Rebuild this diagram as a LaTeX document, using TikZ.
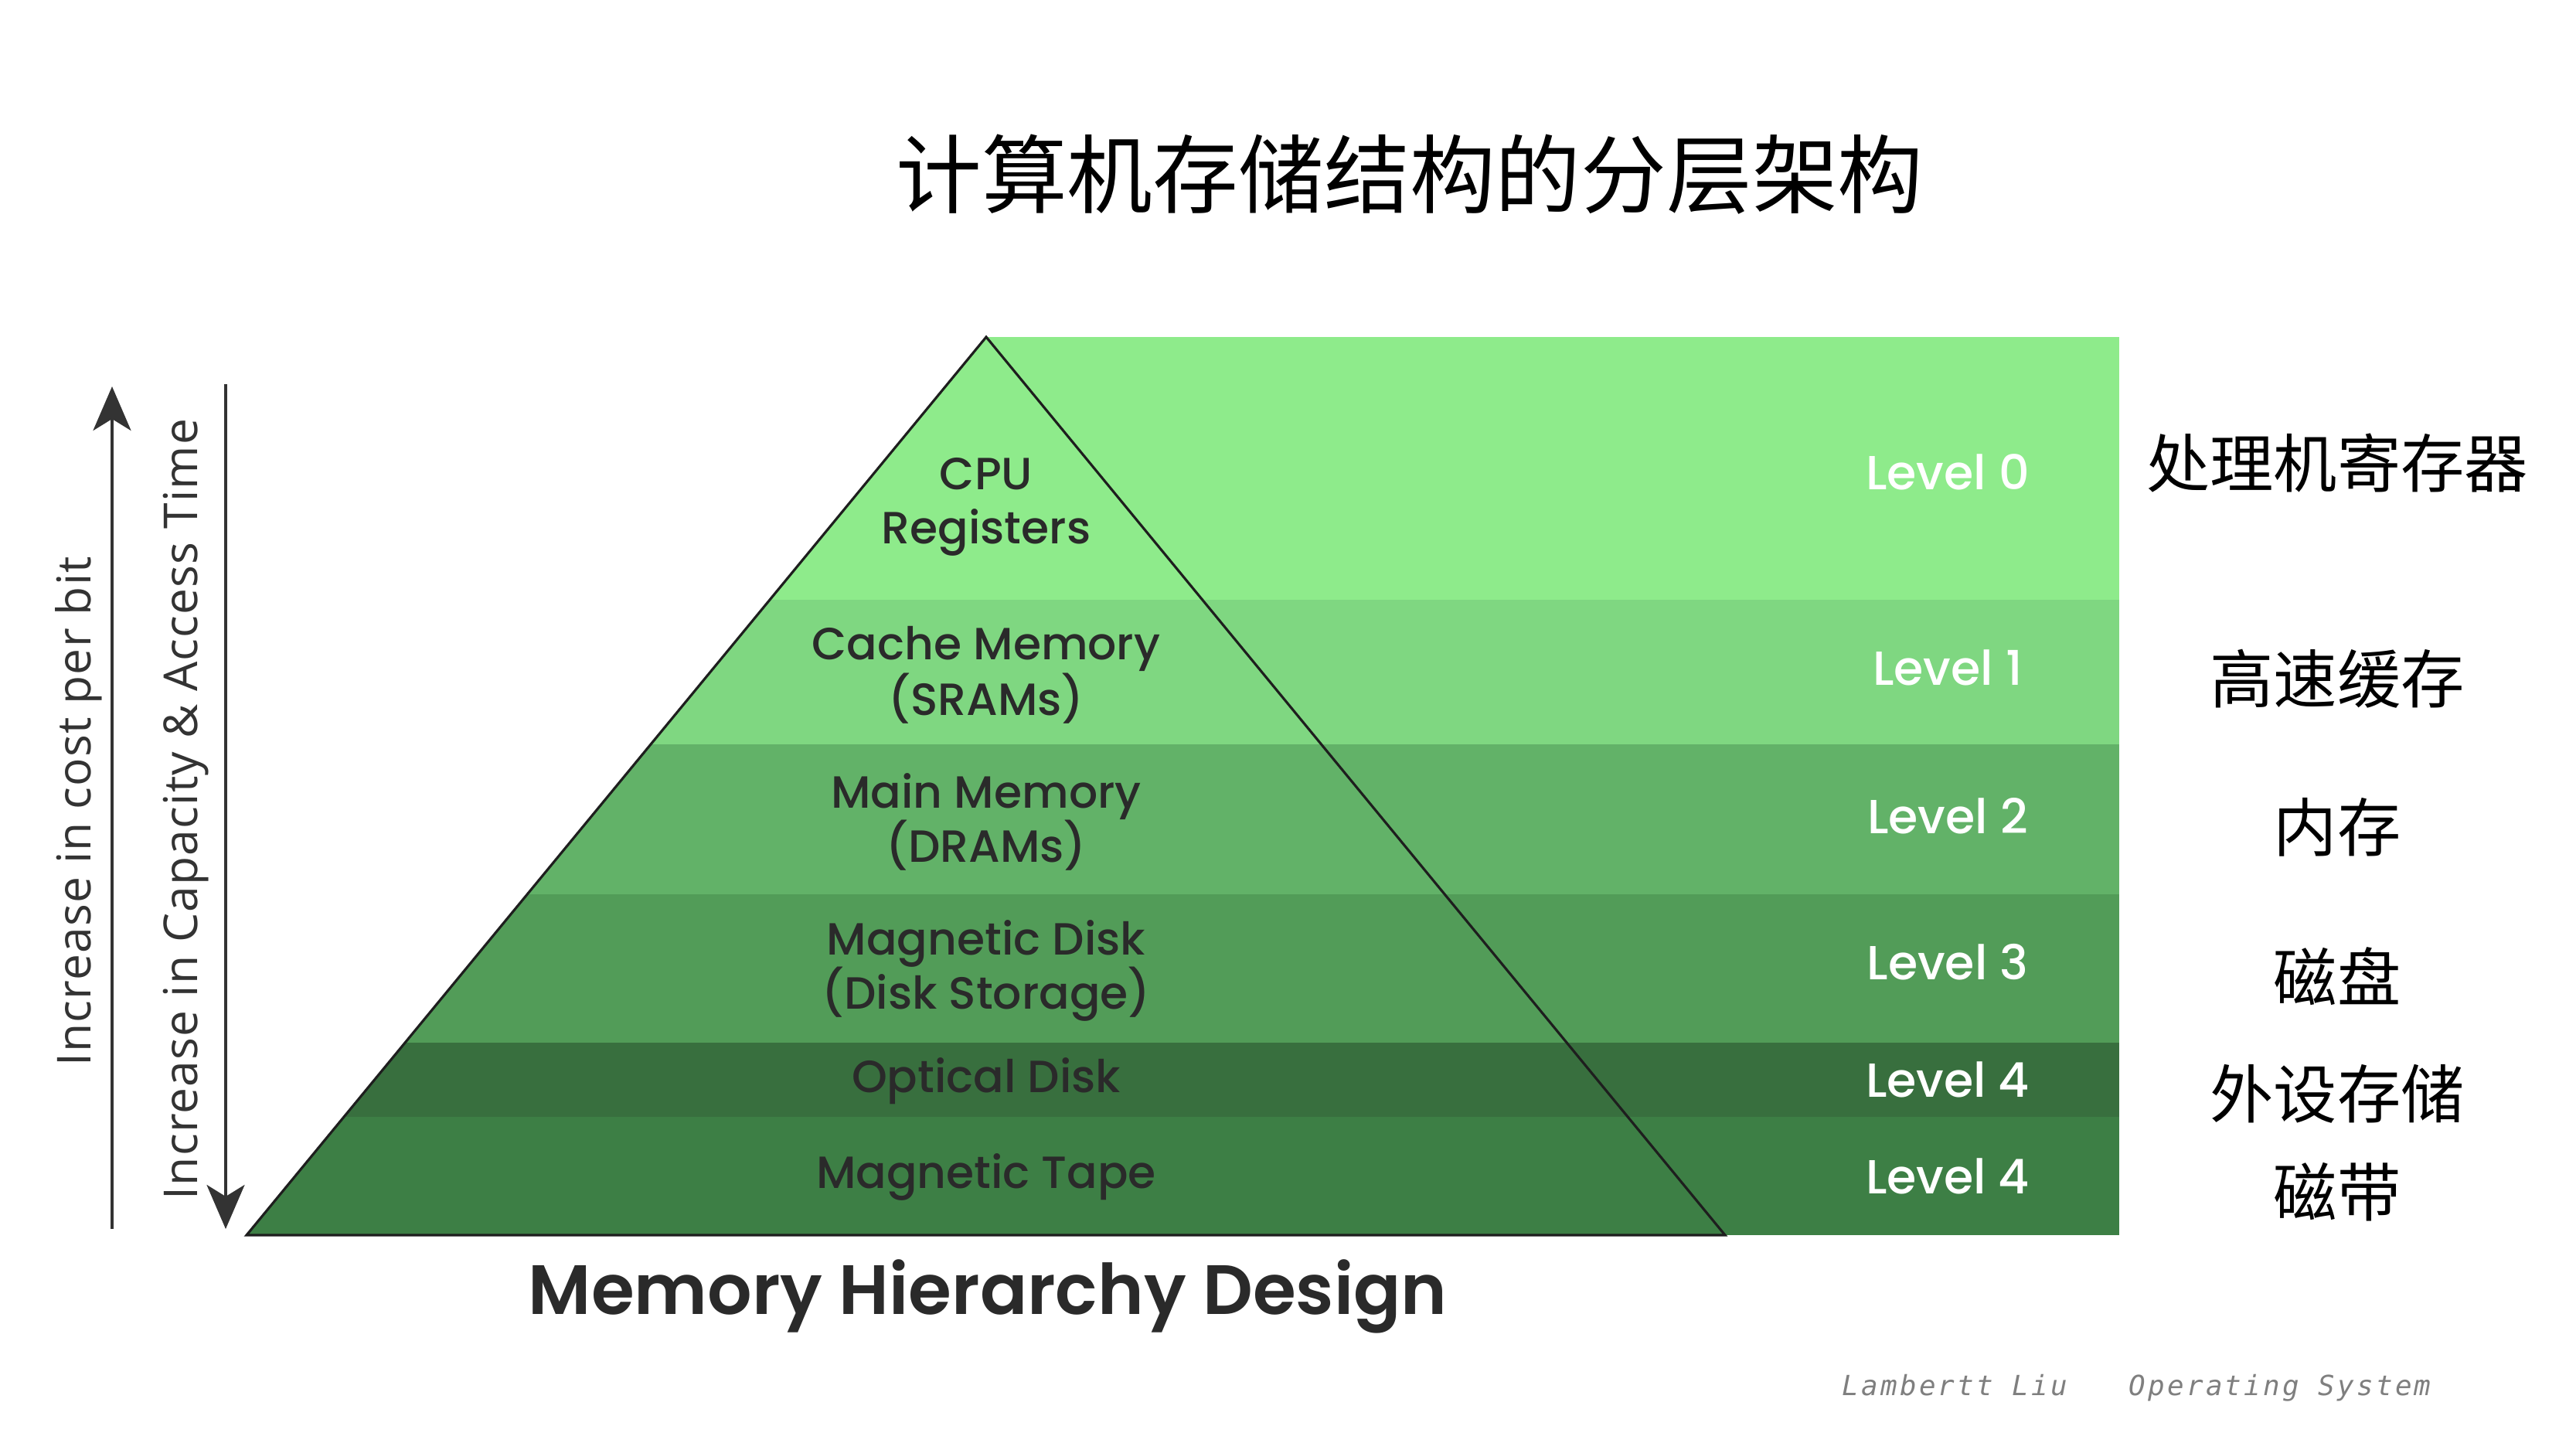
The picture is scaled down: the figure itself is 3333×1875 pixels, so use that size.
\documentclass[tikz,border=0pt]{standalone}
\usepackage{fontspec}
\setmainfont{Poppins}
\newfontfamily\popmed{Poppins Medium}
\newfontfamily\popsemi{Poppins SemiBold}
\newfontfamily\cjk{Noto Sans CJK SC}
\newfontfamily\sidefont[LetterSpace=2]{Open Sans}
\newfontfamily\footfont[LetterSpace=9]{DejaVu Sans Mono}
\usetikzlibrary{arrows.meta}
\definecolor{lvA}{HTML}{8EEB8B}
\definecolor{lvB}{HTML}{7FD781}
\definecolor{lvC}{HTML}{62B268}
\definecolor{lvD}{HTML}{529C58}
\definecolor{lvE}{HTML}{386F3E}
\definecolor{lvF}{HTML}{3D7F45}
\definecolor{pyrtext}{HTML}{2A2A2A}
\definecolor{edgecol}{HTML}{1E1E1E}
\definecolor{arrowgray}{HTML}{333333}
\definecolor{footgray}{HTML}{7F7F7F}
\tikzset{
  pyr/.style={font=\popmed\fontsize{16.6}{19}\selectfont, text=pyrtext, anchor=base, inner sep=0pt},
  lvl/.style={font=\popmed\fontsize{17.6}{20}\selectfont, text=white, anchor=base, inner sep=0pt},
  zh/.style={font=\cjk\fontsize{23.4}{28}\selectfont, text=black, anchor=center, inner sep=0pt},
  side/.style={font=\sidefont\fontsize{17.2}{20}\selectfont, text=arrowgray, rotate=90, anchor=base, inner sep=0pt},
  arr/.style={draw=arrowgray, line width=1pt, -{Stealth[length=5.7mm, width=4.9mm, inset=1.5mm]}},
  edge/.style={draw=edgecol, line width=0.9pt, line join=miter},
  foot/.style={font=\footfont\itshape\fontsize{10.2}{12}\selectfont, text=footgray, anchor=base west, inner sep=0pt}
}
\begin{document}
\begin{tikzpicture}[x=0.01cm,y=-0.01cm]
\useasboundingbox (0,0) rectangle (3333,1875);
\fill[white] (0,0) rectangle (3333,1875);
% title
\node[font=\cjk\fontsize{31.5}{36}\selectfont, anchor=center, inner sep=0pt] (title) at (1824,226) {计算机存储结构的分层架构};
% bands
\begin{scope}
\clip (1276,436) -- (2742,436) -- (2742,1598) -- (319,1598) -- cycle;
\fill[lvA] (0,436) rectangle (2742,776);
\fill[lvB] (0,776) rectangle (2742,963);
\fill[lvC] (0,963) rectangle (2742,1157);
\fill[lvD] (0,1157) rectangle (2742,1349);
\fill[lvE] (0,1349) rectangle (2742,1445);
\fill[lvF] (0,1445) rectangle (2742,1598);
\end{scope}
\draw[edge] (319,1598) -- (1276,436) -- (2232,1598) -- cycle;
% pyramid labels
\node[pyr] (cpu) at (1276,633) {CPU};
\node[pyr] (reg) at (1276,703) {Registers};
\node[pyr] (cache) at (1276,853) {Cache Memory};
\node[pyr] (sram) at (1276,925) {(SRAMs)};
\node[pyr] (main) at (1276,1045) {Main Memory};
\node[pyr] (dram) at (1276,1115) {(DRAMs)};
\node[pyr] (mdisk) at (1276,1235) {Magnetic Disk};
\node[pyr] (dstor) at (1276,1305) {(Disk Storage)};
\node[pyr] (odisk) at (1276,1413) {Optical Disk};
\node[pyr] (mtape) at (1276,1537) {Magnetic Tape};
% level labels
\node[lvl] (l0) at (2520,633) {Level 0};
\node[lvl] (l1) at (2520,886) {Level 1};
\node[lvl] (l2) at (2520,1078) {Level 2};
\node[lvl] (l3) at (2520,1267) {Level 3};
\node[lvl] (l4a) at (2520,1419) {Level 4};
\node[lvl] (l4b) at (2520,1544) {Level 4};
% chinese labels
\node[zh] (z0) at (3024,599) {处理机寄存器};
\node[zh] (z1) at (3024,878) {高速缓存};
\node[zh] (z2) at (3024,1070) {内存};
\node[zh] (z3) at (3024,1263) {磁盘};
\node[zh] (z4) at (3024,1415) {外设存储};
\node[zh] (z5) at (3024,1542) {磁带};
% side arrows
\coordinate (upS) at (145,1590);
\coordinate (upE) at (145,500);
\coordinate (dnS) at (292,497);
\coordinate (dnE) at (292,1590);
\draw[arr] (upS) -- (upE);
\draw[arr] (dnS) -- (dnE);
\node[side] (cost) at (117,1050) {Increase in cost per bit};
\node[side] (cap) at (255,1047) {Increase in Capacity \& Access Time};
% caption
\node[font=\popsemi\fontsize{25.7}{30}\selectfont, text=pyrtext, anchor=base, inner sep=0pt] (caption) at (1278,1700) {Memory Hierarchy Design};
% footer
\node[foot] (author) at (2383,1805) {Lambertt Liu};
\node[foot] (course) at (2754,1805) {Operating System};
\end{tikzpicture}
\end{document}
